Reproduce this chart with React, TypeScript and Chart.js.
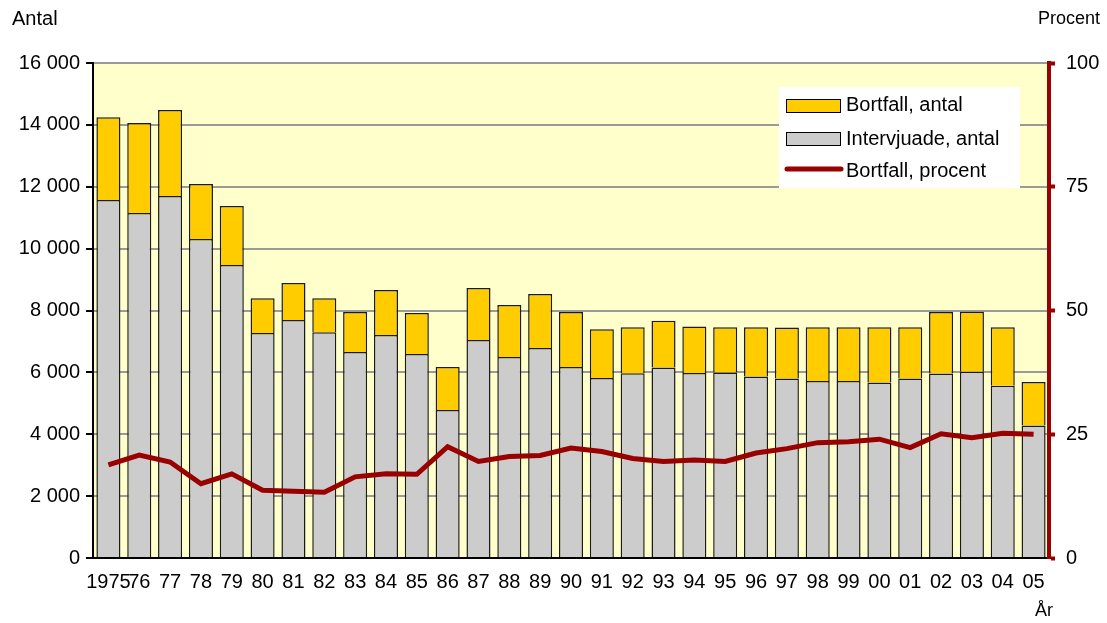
import React, { useEffect, useRef } from "react";
import { Chart, registerables } from "chart.js";

Chart.register(...registerables);

const years = ["1975","76","77","78","79","80","81","82","83","84","85","86","87","88","89","90","91","92","93","94","95","96","97","98","99","00","01","02","03","04","05"];
const intervjuade = [11570,11150,11700,10310,9470,7270,7690,7300,6660,7210,6590,4780,7050,6500,6790,6170,5820,5970,6160,5980,6000,5870,5800,5720,5720,5670,5800,5960,6020,5570,4280];
const bortfallAntal = [2680,2910,2780,1780,1910,1130,1200,1100,1290,1450,1330,1390,1680,1680,1740,1780,1570,1490,1510,1500,1460,1590,1650,1740,1740,1790,1660,1990,1940,1890,1410];
const bortfallProcent = [18.8,20.8,19.4,15.0,17.0,13.7,13.5,13.3,16.4,17.0,16.9,22.5,19.5,20.5,20.7,22.2,21.5,20.1,19.5,19.8,19.5,21.2,22.1,23.3,23.5,24.0,22.3,25.1,24.3,25.2,25.0];
const leftTicks = [0,2000,4000,6000,8000,10000,12000,14000,16000];
const rightTicks = [0,25,50,75,100];

const FONT = "'Liberation Sans', Arial, sans-serif";
const YELLOW = "#FFCC00";
const GRAY = "#CCCCCC";
const RED = "#990000";

const fmt = (v: number) => String(v).replace(/\B(?=(\d{3})+(?!\d))/g, " ");

export default function App() {
  const ref = useRef<HTMLCanvasElement | null>(null);
  useEffect(() => {
    if (!ref.current) return;
    const bgPlugin = {
      id: "bg",
      beforeDraw(chart: any) {
        const { ctx, chartArea } = chart;
        ctx.save();
        ctx.fillStyle = "#FFFFFF";
        ctx.fillRect(0, 0, chart.width, chart.height);
        ctx.fillStyle = "#FFFFCC";
        ctx.fillRect(chartArea.left, chartArea.top, chartArea.right - chartArea.left, chartArea.bottom - chartArea.top);
        ctx.restore();
      },
      afterDraw(chart: any) {
        const { ctx } = chart;
        ctx.save();
        ctx.fillStyle = "#000";
        ctx.textBaseline = "middle";
        ctx.textAlign = "left";
        ctx.font = `20px ${FONT}`;
        ctx.fillText("Antal", 12, 19);
        ctx.font = `18px ${FONT}`;
        ctx.textAlign = "right";
        ctx.fillText("Procent", 1100, 19);
        ctx.textAlign = "center";
        ctx.fillText("År", 1044, 611);
        ctx.textAlign = "left";
        ctx.fillStyle = "#bbb";
        ctx.font = `20px ${FONT}`;
        ctx.fillText("Källa: SCB, ULF.", 18, 634);
        // legend
        const lx = 779, ly = 87, lw = 241, lh = 101;
        ctx.fillStyle = "#FFFFFF";
        ctx.fillRect(lx, ly, lw, lh);
        ctx.lineWidth = 1;
        ctx.strokeStyle = "#000";
        ctx.fillStyle = YELLOW;
        ctx.fillRect(786.5, 99.5, 54, 13);
        ctx.strokeRect(786.5, 99.5, 54, 13);
        ctx.fillStyle = GRAY;
        ctx.fillRect(786.5, 132.5, 54, 13);
        ctx.strokeRect(786.5, 132.5, 54, 13);
        ctx.strokeStyle = RED;
        ctx.lineWidth = 5;
        ctx.lineCap = "round";
        ctx.beginPath();
        ctx.moveTo(787, 169);
        ctx.lineTo(841, 169);
        ctx.stroke();
        ctx.fillStyle = "#000";
        ctx.textAlign = "left";
        ctx.font = `20px ${FONT}`;
        ctx.fillText("Bortfall, antal", 846, 105);
        ctx.fillText("Intervjuade, antal", 846, 139);
        ctx.fillText("Bortfall, procent", 846, 171);
        ctx.restore();
      },
    };

    const chart = new Chart(ref.current, {
      type: "bar",
      data: {
        labels: years,
        datasets: [
          {
            type: "line",
            label: "Bortfall, procent",
            data: bortfallProcent,
            yAxisID: "y1",
            borderColor: RED,
            borderWidth: 5,
            pointRadius: 0,
            tension: 0,
            order: 0,
          } as any,
          {
            label: "Intervjuade, antal",
            data: intervjuade,
            backgroundColor: GRAY,
            borderColor: "#1a1a1a",
            borderWidth: 1.5,
            yAxisID: "y",
            barPercentage: 0.78,
            categoryPercentage: 1,
            order: 1,
          },
          {
            label: "Bortfall, antal",
            data: bortfallAntal,
            backgroundColor: YELLOW,
            borderColor: "#1a1a1a",
            borderWidth: 1.5,
            yAxisID: "y",
            barPercentage: 0.78,
            categoryPercentage: 1,
            order: 2,
          },
        ],
      },
      options: {
        responsive: false,
        animation: false,
        events: [],
        layout: { padding: { top: 63, left: 0, right: 0, bottom: 0 } },
        plugins: { legend: { display: false }, tooltip: { enabled: false } },
        scales: {
          x: {
            stacked: true,
            grid: { display: false, drawTicks: false },
            border: { display: true, color: "#000", width: 2 },
            ticks: {
              color: "#000",
              font: { family: FONT, size: 20 },
              autoSkip: false,
              maxRotation: 0,
              minRotation: 0,
              padding: 12,
            },
            afterFit(s: any) { s.height = 65; },
          },
          y: {
            stacked: true,
            position: "left",
            min: 0,
            max: 16000,
            afterBuildTicks(s: any) { s.ticks = leftTicks.map((v) => ({ value: v })); },
            ticks: {
              color: "#000",
              font: { family: FONT, size: 20 },
              padding: 6,
              callback: (v: any) => fmt(Number(v)),
            },
            grid: { color: "#9a9a9a", lineWidth: 2, tickColor: "#000", tickLength: 7, tickWidth: 2 },
            border: { display: true, color: "#000", width: 2 },
            afterFit(s: any) { s.width = 93; },
          },
          y1: {
            position: "right",
            min: 0,
            max: 100,
            afterBuildTicks(s: any) { s.ticks = rightTicks.map((v) => ({ value: v })); },
            ticks: {
              color: "#000",
              font: { family: FONT, size: 20 },
              padding: 11,
            },
            grid: { drawOnChartArea: false, color: RED, tickColor: RED, tickLength: 6, tickWidth: 4 },
            border: { display: true, color: RED, width: 4 },
            afterFit(s: any) { s.width = 58; },
          },
        },
      },
      plugins: [bgPlugin],
    });
    return () => chart.destroy();
  }, []);
  return (
    <div style={{ position: "fixed", left: 0, top: 0, width: 1107, height: 623, background: "#fff" }}>
      <canvas ref={ref} width={1107} height={623} style={{ display: "block" }} />
    </div>
  );
}
